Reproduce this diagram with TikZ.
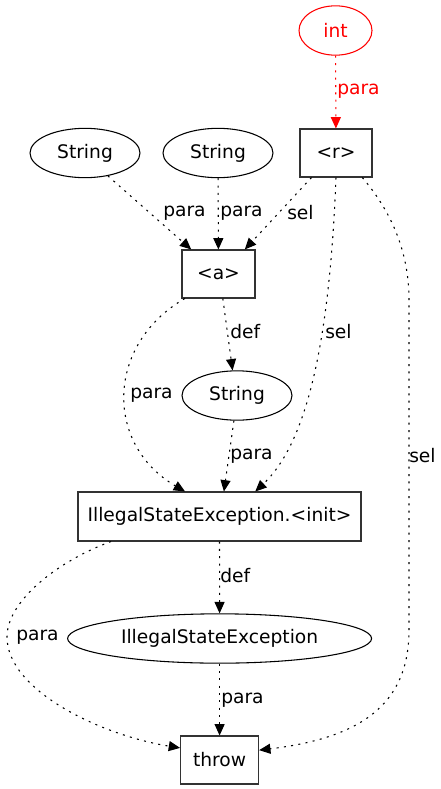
\documentclass[tikz,border=0pt]{standalone}
\usepackage{fontspec}
\setmainfont{DejaVu Sans}
\usetikzlibrary{shapes.geometric,arrows.meta}

\begin{document}
\begin{tikzpicture}[x=0.75pt,y=-0.75pt]
    % Define styles
    \tikzstyle{txt} = [font=\fontsize{14pt}{16pt}\selectfont]
    \tikzstyle{opbox} = [txt, rectangle, draw=black!80, line width=0.8pt, inner sep=0pt, minimum height=36pt]
    \tikzstyle{typeell} = [txt, ellipse, draw=black, line width=0.8pt, inner sep=0pt, minimum height=37pt]
    \tikzstyle{dep} = [line width=0.8pt, dash pattern=on 1.5pt off 4pt, -{Triangle[length=8.5pt,width=7.5pt]}]
    \tikzstyle{lbl} = [txt, anchor=west, inner sep=0pt]

    \useasboundingbox (0,0) rectangle (440,789);

    % Top row
    \node[typeell, draw=red, text=red, minimum width=54.75pt] (int) at (335.5,30.5) {int};
    \node[typeell, minimum width=82.5pt] (s1) at (85,153) {String};
    \node[typeell, minimum width=82.5pt] (s2) at (218,153) {String};
    \node[opbox, minimum width=54pt] (r) at (336,153) {<r>};

    % Middle
    \node[opbox, minimum width=54.75pt] (a) at (218.5,274) {<a>};
    \node[typeell, minimum width=82.5pt] (s3) at (237,395.5) {String};
    \node[opbox, minimum width=212.25pt, minimum height=36.75pt] (init) at (219.5,516.5) {IllegalStateException.<init>};

    % Bottom
    \node[typeell, minimum width=228pt] (ise) at (219.6,638.5) {IllegalStateException};
    \node[opbox, minimum width=58.5pt] (throw) at (219.6,760) {throw};

    % Edges
    \draw[dep, red] (int) -- (r);
    \draw[dep] (s1.-45) -- (a.138);
    \draw[dep] (s2) -- (a);
    \draw[dep] (r.-135) -- (a.43);
    \draw[dep] (a.-144) .. controls (105,345) and (105,445) .. (init.144);
    \draw[dep] (a.-80) -- (s3.100);
    \draw[dep] (r.south) .. controls (330,330) and (310,440) .. (init.35);
    \draw[dep] (s3.-97) -- (init.80);
    \draw[dep] (r.-43) .. controls (390,210) and (409,250) .. (409,300) -- (409,630)
        .. controls (409,705) and (360,738) .. (throw.14);
    \draw[dep] (init) -- (ise);
    \draw[dep] (init.-167) .. controls (60,560) and (7,600) .. (7,637)
        .. controls (7,690) and (100,735) .. (throw.163);
    \draw[dep] (ise) -- (throw);

    % Edge labels
    \node[lbl, text=red] (l-int) at (337,91) {para};
    \node[lbl] (l-s1) at (163,213) {para};
    \node[lbl] (l-s2) at (220,213) {para};
    \node[lbl] (l-ra) at (287,213) {sel};
    \node[lbl] (l-ai) at (130,395) {para};
    \node[lbl] (l-as) at (230,332) {def};
    \node[lbl] (l-ri) at (325,332) {sel};
    \node[lbl] (l-si) at (230,456) {para};
    \node[lbl] (l-rt) at (409,456) {sel};
    \node[lbl] (l-ie) at (220,576) {def};
    \node[lbl] (l-it) at (16,637) {para};
    \node[lbl] (l-et) at (221,700) {para};

\end{tikzpicture}
\end{document}
